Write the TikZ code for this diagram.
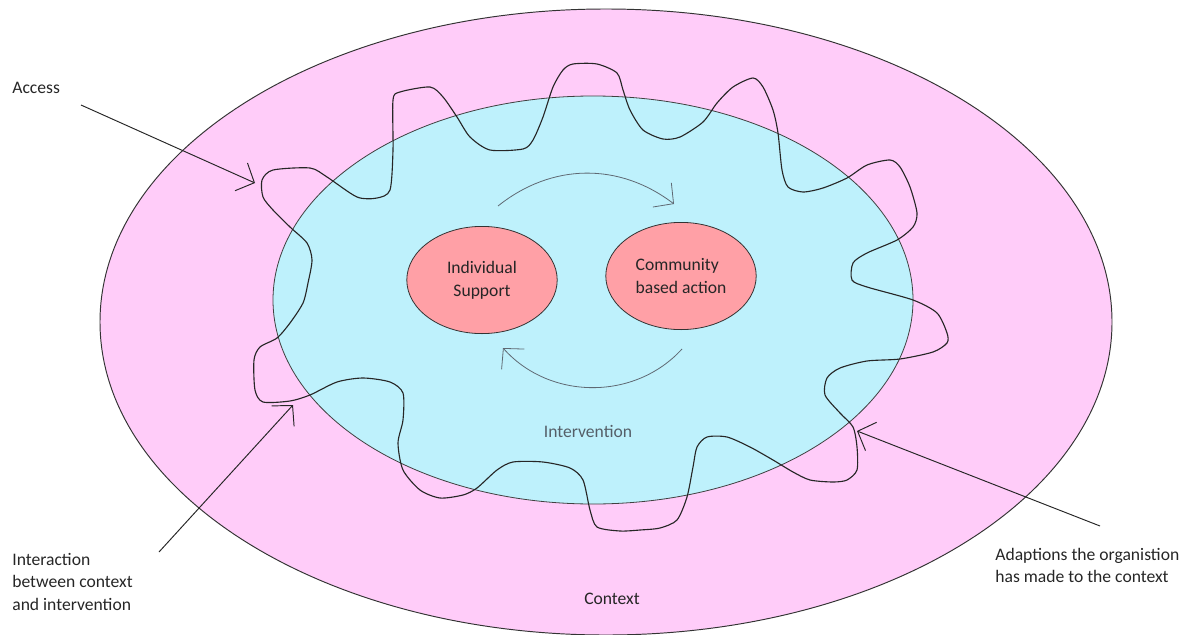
\documentclass[tikz,border=0pt]{standalone}
\usepackage{fontspec}
\setmainfont{Carlito}
\usepackage{tikz}
\usetikzlibrary{arrows.meta,shapes.geometric}
\definecolor{contextpink}{RGB}{255,204,249}
\definecolor{intercyan}{RGB}{190,241,252}
\definecolor{blobred}{RGB}{255,160,166}
\definecolor{inkgrey}{RGB}{38,38,38}
\definecolor{arcgrey}{RGB}{95,105,115}

\begin{document}
\begin{tikzpicture}[x=0.625pt, y=-0.625pt,
  lbl/.style={font=\fontsize{11pt}{14pt}\selectfont, text=inkgrey, inner sep=0pt, align=left},
  blob/.style={ellipse, draw=black!80, line width=0.5pt, fill=blobred, minimum width=94pt, minimum height=67pt,
    inner sep=0pt, align=center, font=\fontsize{11pt}{14.4pt}\selectfont, text=inkgrey},
  pointer/.style={draw=black!85, line width=0.6pt, -{Straight Barb[length=9pt,width=19pt]}},
  turn/.style={draw=arcgrey, line width=0.5pt, -{Straight Barb[length=9pt,width=19pt]}}]
\useasboundingbox (0,0) rectangle (1201,634);

\draw[fill=contextpink, draw=black!80, line width=0.6pt] (606,322) ellipse [x radius=506, y radius=313];
\draw[fill=intercyan, draw=black!75, line width=0.5pt] (593,300) ellipse [x radius=320, y radius=204];

\node[blob] (indiv) at (482,280) {Individual\\Support};
\node[blob, align=left] (community) at (681,276) {Community\\based action};

\coordinate (topfrom) at (498,206);
\coordinate (topto) at (674,204);
\coordinate (botfrom) at (682,349);
\coordinate (botto) at (503,348);
\draw[turn] (topfrom) to[bend left=38] (topto);
\draw[turn] (botfrom) to[bend left=48] (botto);

\draw[black!85, line width=0.7pt] plot[smooth cycle, tension=0.45] coordinates {
  (262,180) (273,170) (310,168) (327,177) (357,197) (377,198) (390,190) (393,150) (393,100) (400,92)
  (430,87) (443,97) (457,117) (470,137) (490,150) (523,149) (533,140) (543,117) (553,87) (563,70)
  (573,64) (597,64) (617,73) (623,90) (630,110) (643,130) (663,139) (680,137) (703,122) (717,103)
  (733,87) (753,78) (763,87) (773,110) (778,133) (782,170) (788,187) (803,192) (823,188) (847,178)
  (867,165) (890,160) (900,167) (910,187) (917,213) (913,227) (897,240) (867,253) (853,263) (852,280)
  (867,287) (913,300) (937,313) (947,333) (947,343) (933,352) (900,359) (867,361) (840,368) (827,378)
  (825,395) (840,413) (853,427) (857,447) (857,470) (847,480) (833,482) (810,480) (793,472) (773,460)
  (750,447) (727,437) (707,437) (697,447) (693,467) (687,497) (677,520) (660,528) (640,530) (620,531)
  (597,527) (590,510) (583,480) (570,468) (543,462) (513,462) (497,470) (477,488) (463,495) (440,498)
  (420,490) (403,470) (398,443) (403,420) (403,393) (390,382) (363,378) (337,382) (310,395) (290,401)
  (263,402) (255,390) (254,360) (260,347) (277,338) (290,323) (303,303) (308,283) (312,260) (307,243)
  (290,227) (273,210) (263,197)};

\node[lbl, text=arcgrey!90!black, anchor=base] (intervention) at (588,437) {Intervention};
\node[lbl, anchor=base] (context) at (612,604) {Context};

\node[lbl, anchor=base west] (access) at (12,93) {Access};
\node[lbl, anchor=north west] (interaction) at (12,553) {Interaction\\between context\\and intervention};
\node[lbl, anchor=north west] (adaptions) at (995,548) {Adaptions the organistion\\has made to the context};

\coordinate (accessfrom) at (81,105);
\coordinate (accessto) at (255,183);
\coordinate (interfrom) at (159,552);
\coordinate (interto) at (293,405);
\coordinate (adaptfrom) at (1100,526);
\coordinate (adaptto) at (857,431);
\draw[pointer] (accessfrom) -- (accessto);
\draw[pointer] (interfrom) -- (interto);
\draw[pointer] (adaptfrom) -- (adaptto);
\end{tikzpicture}
\end{document}
